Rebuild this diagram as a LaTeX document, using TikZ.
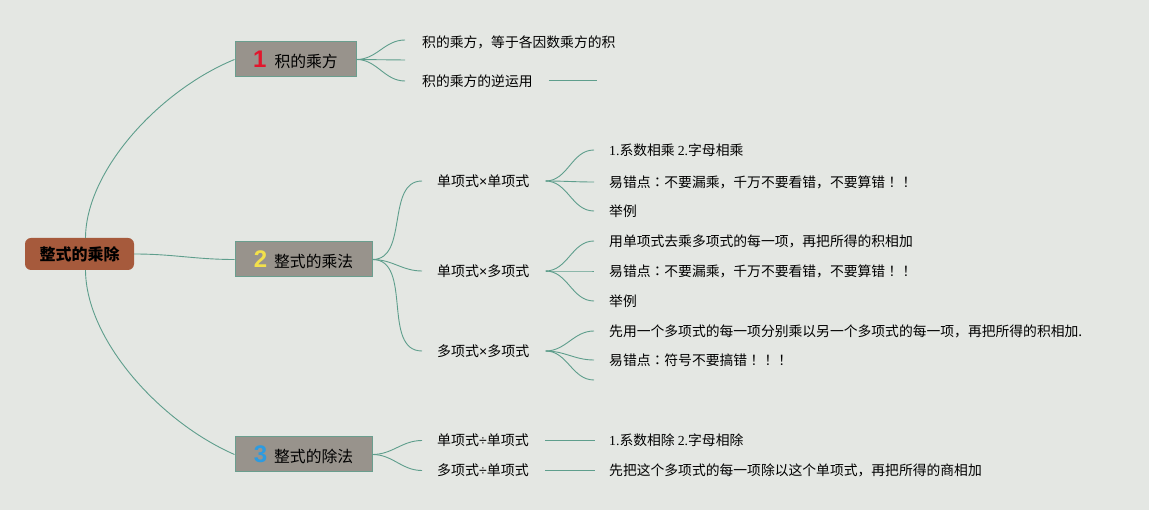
\documentclass[tikz,border=0pt]{standalone}
\usepackage{fontspec}
\setmainfont{Noto Sans CJK SC}
\newfontfamily\numfont{Liberation Sans}
\newfontfamily\latinserif{Liberation Serif}
\newfontfamily\jpfont{Noto Sans CJK JP}
\definecolor{bg}{HTML}{E4E7E3}
\definecolor{linec}{HTML}{5E9E8C}
\definecolor{rootfill}{HTML}{A65A3C}
\definecolor{topicfill}{HTML}{98938C}
\definecolor{topicborder}{HTML}{6A9E8E}
\definecolor{tred}{HTML}{E2162C}
\definecolor{tyellow}{HTML}{F2E04B}
\definecolor{tblue}{HTML}{2D9BE0}
\newcommand\tnum[2]{{\numfont\bfseries\fontsize{24}{24}\selectfont\color{#1}#2}}
\newcommand\mtimes{{\numfont ×}}
\newcommand\mdiv{{\numfont ÷}}
\newcommand\ls[1]{{\latinserif #1}}
\newcommand\jp[1]{{\jpfont #1}}
\tikzset{
  conn/.style={draw=linec, line width=0.9pt},
  rootbox/.style={fill=rootfill, rounded corners=6pt, minimum width=109pt, minimum height=32pt, inner sep=0pt, font=\fontsize{16}{18}\selectfont\bfseries},
  topicbox/.style={draw=topicborder, fill=topicfill, line width=1pt, minimum height=35pt, inner sep=0pt, font=\fontsize{15.8}{18}\selectfont},
  sub/.style={anchor=west, inner sep=0pt, font=\fontsize{14}{16}\selectfont},
  leaf/.style={anchor=west, inner sep=0pt, font=\fontsize{13.8}{16}\selectfont},
}
\begin{document}
\begin{tikzpicture}[x=1pt,y=-1pt]
\fill[bg] (0,0) rectangle (1149,510);
\useasboundingbox (0,0) rectangle (1149,510);

% root and topics
\node[rootbox] (root) at (79.5,254) {整式的乘除};
\node[topicbox, minimum width=121pt] (t1) at (295.5,59.5) {\tnum{tred}{1}\hspace{8pt}积的乘方};
\node[topicbox, minimum width=137pt] (t2) at (303.5,259.5) {\tnum{tyellow}{2}\hspace{7pt}整式的乘法};
\node[topicbox, minimum width=137pt] (t3) at (303.5,454.5) {\tnum{tblue}{3}\hspace{7pt}整式的除法};

\draw[conn] ([xshift=6pt]root.north) .. controls (86,170) and (160,90) .. (t1.west);
\draw[conn] (root.east) to[out=0,in=180] (t2.west);
\draw[conn] ([xshift=6pt]root.south) .. controls (86,340) and (160,422) .. (t3.west);

% topic 1 children
\node[leaf] (a1) at (422,42) {积的乘方，等于各因数乘方的积};
\coordinate (a2) at (405,60);
\node[leaf] (a3) at (422,81) {积的乘方的逆运用};
\coordinate (a3e) at (597,80.5);
\draw[conn] (t1.east) to[out=0,in=180] ([xshift=-17pt,yshift=2pt]a1.west);
\draw[conn] (t1.east) -- (a2);
\draw[conn] (t1.east) to[out=0,in=180] ([xshift=-17pt]a3.west);
\draw[conn] ([xshift=16pt]a3.east |- a3e) -- (a3e);

% topic 2 children
\node[sub] (b1) at (437,181) {单项式\mtimes 单项式};
\node[sub] (b2) at (437,271) {单项式\mtimes 多项式};
\node[sub] (b3) at (437,351) {多项式\mtimes 多项式};
\draw[conn] (t2.east) to[out=0,in=180] ([xshift=-15pt]b1.west);
\draw[conn] (t2.east) to[out=0,in=180] ([xshift=-15pt]b2.west);
\draw[conn] (t2.east) to[out=0,in=180] ([xshift=-15pt]b3.west);

\node[leaf] (c11) at (609,150) {\ls{1.}系数相乘 \ls{2.}字母相乘};
\node[leaf] (c12) at (609,182) {易错点\jp{：}不要漏乘，千万不要看错，不要算错\jp{！！}};
\node[leaf] (c13) at (609,211) {举例};
\node[leaf] (c21) at (609,241) {用单项式去乘多项式的每一项，再把所得的积相加};
\node[leaf] (c22) at (609,271) {易错点\jp{：}不要漏乘，千万不要看错，不要算错\jp{！！}};
\node[leaf] (c23) at (609,301) {举例};
\node[leaf] (c31) at (609,331) {先用一个多项式的每一项分别乘以另一个多项式的每一项，再把所得的积相加.};
\node[leaf] (c32) at (609,360) {易错点\jp{：}符号不要搞错\jp{！！！}};
\coordinate (c33) at (594,380);

\foreach \s/\t in {b1/c11,b1/c12,b1/c13,b2/c21,b2/c22,b2/c23,b3/c31,b3/c32}
  \draw[conn] ([xshift=16pt]\s.east) to[out=0,in=180] ([xshift=-15pt]\t.west);
\draw[conn] ([xshift=16pt]b3.east) to[out=0,in=180] (c33);

% topic 3 children
\node[sub] (d1) at (437,440.5) {单项式\mdiv 单项式};
\node[sub] (d2) at (437,470.5) {多项式\mdiv 单项式};
\draw[conn] (t3.east) to[out=0,in=180] ([xshift=-15pt]d1.west);
\draw[conn] (t3.east) to[out=0,in=180] ([xshift=-15pt]d2.west);
\node[leaf] (e1) at (609,440.5) {\ls{1.}系数相除 \ls{2.}字母相除};
\node[leaf] (e2) at (609,470.5) {先把这个多项式的每一项除以这个单项式，再把所得的商相加};
\draw[conn] ([xshift=16pt]d1.east) -- ([xshift=-14pt]e1.west);
\draw[conn] ([xshift=16pt]d2.east) -- ([xshift=-14pt]e2.west);
\end{tikzpicture}
\end{document}
